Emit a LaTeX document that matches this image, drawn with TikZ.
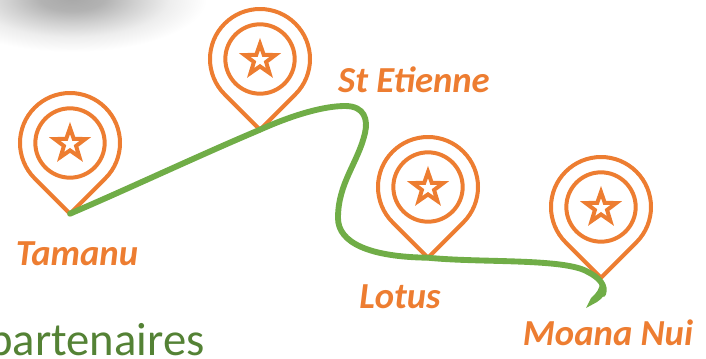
\documentclass[tikz,border=0pt]{standalone}
\usepackage{fontspec}
\setmainfont{Carlito}
\usetikzlibrary{shapes.geometric}
\definecolor{pinorange}{HTML}{ED7D31}
\definecolor{routegreen}{HTML}{70AD47}
\definecolor{wordgreen}{HTML}{548235}
\pgfdeclareradialshading{softblob}{\pgfpoint{0bp}{0bp}}{rgb(0bp)=(0.66,0.66,0.66);rgb(6bp)=(0.70,0.70,0.70);rgb(12bp)=(0.82,0.82,0.82);rgb(18bp)=(0.93,0.93,0.93);rgb(25bp)=(1,1,1);rgb(100bp)=(1,1,1)}
\tikzset{
  pinline/.style={draw=pinorange,line width=3pt,line join=miter},
  pinstar/.style={star,star points=5,star point ratio=2.5,draw=pinorange,line width=3pt,inner sep=0pt,minimum size=24pt},
  pinring/.style={circle,draw=pinorange,line width=3pt,inner sep=0pt,minimum size=52pt},
  place/.style={font=\bfseries\itshape\fontsize{27.5pt}{29pt}\selectfont,text=pinorange,inner sep=0pt},
  route/.style={draw=routegreen,line width=4.4pt,line cap=round},
  pics/mappin/.style={code={
    \draw[pinline] (-35.36,-35.36) arc[start angle=225,end angle=-45,radius=50] -- (0,-70.7) -- cycle;
    \node[pinring] (#1ring) at (0,0) {};
    \node[pinstar] (#1star) at (0,-1) {};
    \coordinate (#1) at (0,-70.7);
  }}
}
\begin{document}
\begin{tikzpicture}[x=0.75pt,y=0.75pt]
\useasboundingbox (0,0) rectangle (706,358);
\begin{scope}
\clip (0,0) rectangle (706,358);
\shade[shading=softblob] (72,360) ellipse[x radius=135,y radius=54];
\end{scope}
\pic at (70,215) {mappin=tamanu};
\pic at (260,299) {mappin=stetienne};
\pic at (428,171) {mappin=lotus};
\pic at (601,151) {mappin=moana};
\draw[route] (tamanu)
  .. controls (130,170) and (200,203) .. (stetienne)
  .. controls (295,244) and (325,252) .. (345,252)
  .. controls (365,252) and (368,238) .. (365,225)
  .. controls (358,195) and (338,175) .. (338,140)
  .. controls (338,115) and (370,101) .. (lotus)
  .. controls (480,95) and (565,100) .. (588,86)
  .. controls (600,80) and (606,72) .. (603,64);
\fill[routegreen] (606,72) .. controls (606,64) and (603,60) .. (597,56) -- (586,50) -- (591,60) .. controls (597,65) and (600,70) .. (600,76) -- cycle;
\node[place] (tamanulabel) at (77,104) {Tamanu};
\node[place] (stetiennelabel) at (414,278) {St Etienne};
\node[place] (lotuslabel) at (400,61) {Lotus};
\node[place] (moanalabel) at (608,25) {Moana Nui};
\node[anchor=base west,font=\fontsize{35pt}{37pt}\selectfont,text=wordgreen,inner sep=0pt] (partners) at (-12,3) {partenaires};
\end{tikzpicture}
\end{document}
